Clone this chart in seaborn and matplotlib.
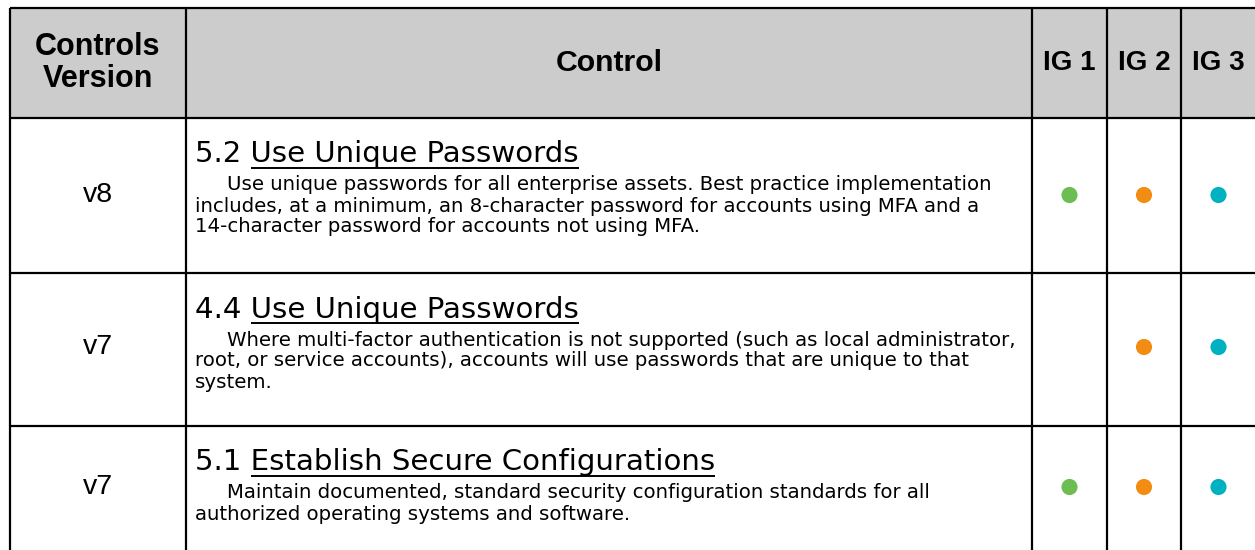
import matplotlib
matplotlib.use("Agg")
import matplotlib.pyplot as plt
import seaborn as sns
import pandas as pd

# ---- data ----
versions = ["v8", "v7", "v7"]
control_ids = ["5.2", "4.4", "5.1"]
control_titles = ["Use Unique Passwords", "Use Unique Passwords",
                  "Establish Secure Configurations"]
descriptions = [
    ["Use unique passwords for all enterprise assets. Best practice implementation",
     "includes, at a minimum, an 8-character password for accounts using MFA and a",
     "14-character password for accounts not using MFA."],
    ["Where multi-factor authentication is not supported (such as local administrator,",
     "root, or service accounts), accounts will use passwords that are unique to that",
     "system."],
    ["Maintain documented, standard security configuration standards for all",
     "authorized operating systems and software."],
]
ig_labels = ["IG 1", "IG 2", "IG 3"]
ig1 = [True, False, True]
ig2 = [True, True, True]
ig3 = [True, True, True]
header_version = "Controls\nVersion"
header_control = "Control"

# ---- layout (pixels) ----
W, H = 1255, 550
col_edges = [10, 186, 1032, 1107, 1181, 1256]
row_edges = [8, 118, 273, 426, 560]
row_centers = [195, 347, 487]
ig_colors = {"IG 1": "#6cbd52", "IG 2": "#f28c12", "IG 3": "#00b1c1"}
ARIAL = ["Liberation Sans", "DejaVu Sans"]
BODY = ["DejaVu Sans"]

sns.set_theme(style="white")
plt.rcParams["font.family"] = ARIAL
plt.rcParams["text.color"] = "black"

fig = plt.figure(figsize=(W / 100, H / 100), dpi=100)
ax = fig.add_axes([0, 0, 1, 1])
ax.set_xlim(0, W)
ax.set_ylim(H, 0)
ax.axis("off")

# header background
ax.add_patch(plt.Rectangle((col_edges[0], row_edges[0]), W - col_edges[0] + 5,
                           row_edges[1] - row_edges[0], facecolor="#cccccc",
                           edgecolor="none", zorder=0))
# grid lines
lw = 1.6
for x in col_edges[:-1]:
    ax.plot([x, x], [row_edges[0], H + 10], color="black", lw=lw, zorder=3,
            solid_capstyle="butt")
for y in row_edges[:-1]:
    ax.plot([col_edges[0], W + 10], [y, y], color="black", lw=lw, zorder=3,
            solid_capstyle="butt")

hdr_y = (row_edges[0] + row_edges[1]) / 2
ax.text((col_edges[0] + col_edges[1]) / 2, hdr_y, header_version, ha="center",
        va="center", fontsize=22, fontweight="bold", linespacing=1.05,
        family=ARIAL)
ax.text((col_edges[1] + col_edges[2]) / 2, hdr_y, header_control, ha="center",
        va="center", fontsize=21.8, fontweight="bold", family=ARIAL)
ig_centers = [(col_edges[i] + col_edges[i + 1]) / 2 for i in range(2, 5)]
for lab, cx in zip(ig_labels, ig_centers):
    ax.text(cx, hdr_y, lab, ha="center", va="center", fontsize=20,
            fontweight="bold", family=ARIAL)

fig.canvas.draw()
renderer = fig.canvas.get_renderer()
inv = ax.transData.inverted()


def text_width(s, **kw):
    t = ax.text(0, 0, s, **kw)
    bb = t.get_window_extent(renderer)
    t.remove()
    p0 = inv.transform((bb.x0, bb.y0))
    p1 = inv.transform((bb.x1, bb.y0))
    return p1[0] - p0[0]


TITLE_FS = 21.1
BODY_FS = 14.2
text_x = col_edges[1] + 9
for i in range(3):
    top = row_edges[i + 1]
    ax.text((col_edges[0] + col_edges[1]) / 2, row_centers[i], versions[i],
            ha="center", va="center", fontsize=20.5, family=ARIAL)
    full = f"{control_ids[i]} {control_titles[i]}"
    ax.text(text_x, top + 44.5, full, ha="left", va="baseline",
            fontsize=TITLE_FS, family=BODY)
    wf = text_width(full, fontsize=TITLE_FS, family=BODY)
    wt = text_width(control_titles[i], fontsize=TITLE_FS, family=BODY)
    ux0 = text_x + (wf - wt)
    ax.plot([ux0, text_x + wf], [top + 50, top + 50], color="black", lw=1.4,
            solid_capstyle="butt")
    for j, line in enumerate(descriptions[i]):
        x = text_x + (32 if j == 0 else 0)
        ax.text(x, top + 72.5 + 21 * j, line, ha="left", va="baseline",
                fontsize=BODY_FS, family=BODY)

# dots
recs = []
for i in range(3):
    for lab, flags in zip(ig_labels, [ig1, ig2, ig3]):
        if flags[i]:
            recs.append({"x": ig_centers[ig_labels.index(lab)],
                         "y": row_centers[i], "IG": lab})
df = pd.DataFrame(recs)
sns.scatterplot(data=df, x="x", y="y", hue="IG", palette=ig_colors, s=135,
                edgecolor="none", legend=False, ax=ax, zorder=4)
ax.set_xlim(0, W)
ax.set_ylim(H, 0)
ax.axis("off")

fig.savefig("out.png", dpi=100)
